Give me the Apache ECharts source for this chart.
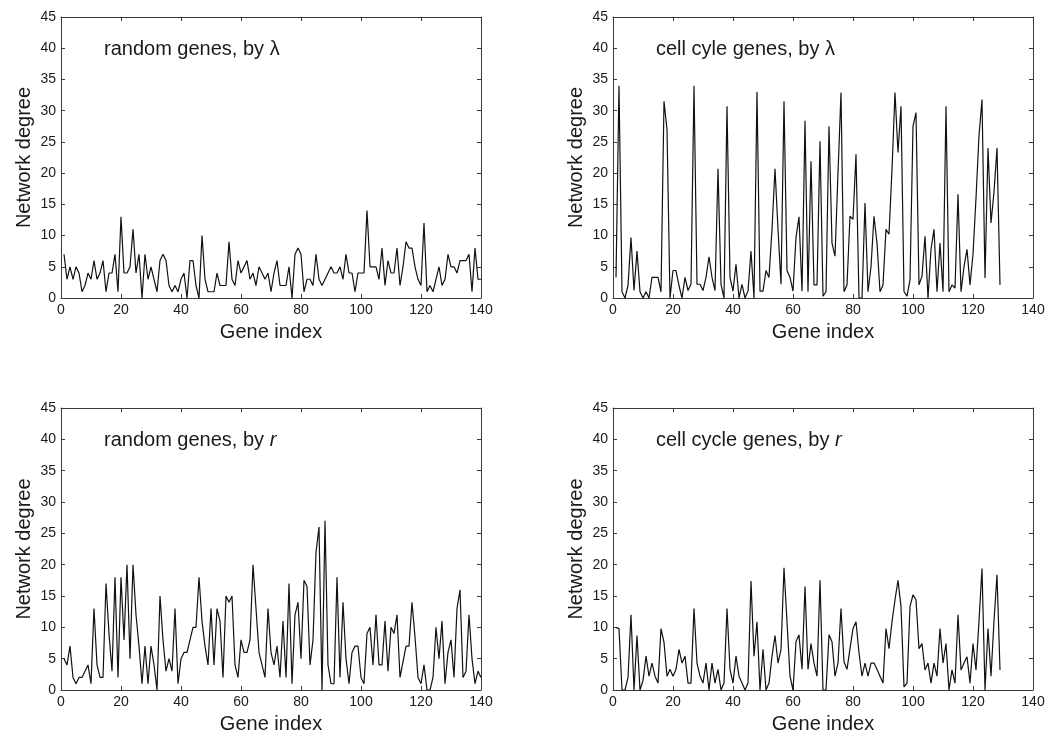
<!DOCTYPE html>
<html>
<head>
<meta charset="utf-8">
<script src="https://cdn.jsdelivr.net/npm/echarts@6/dist/echarts.min.js"></script>
<style>
html,body{margin:0;padding:0;background:#fff;}
#chart{width:1049px;height:735px;}
</style>
</head>
<body>
<div id="chart"></div>
<script>
// Network degree per gene index
const randomLambda = [
  7,3,5,3,5,4,1,2,4,3,
  6,3,4,6,1,4,4,7,1,13,
  4,4,5,11,4,7,0,7,3,5,
  3,1,6,7,6,2,1,2,1,3,
  4,0,6,6,2,0,10,3,1,1,
  1,4,2,2,2,9,3,2,6,4,
  5,6,3,4,2,5,4,3,4,1,
  4,6,2,2,2,5,0,7,8,7,
  1,3,3,2,7,3,2,3,4,5,
  4,4,5,3,7,4,4,1,4,4,
  4,14,5,5,5,3,8,2,6,4,
  4,8,2,5,9,8,8,5,3,2,
  12,1,2,1,3,5,2,3,7,5,
  5,4,6,6,6,7,1,8,3,3
];
const cellLambda = [
  3.3,34,1,0,2,9.7,1.2,7.5,1,0,
  1,0,3.3,3.3,3.3,1,31.5,27,0,4.4,
  4.4,2,0,3.3,1.2,2.2,34,2.2,2.2,1.2,
  3.3,6.6,3.3,1.2,20.7,2.2,0,30.7,3.3,1.1,
  5.4,0,2.2,0,1.1,7.5,0,33,1.1,1.1,
  4.4,3.3,11,20.7,11,2.2,31.5,4.4,3.3,1.1,
  9.7,13,1.1,28.4,1,21.9,2.1,2.1,25.1,0.3,
  1,27.5,8.8,6.7,20,32.9,1,2.1,13.1,12.6,
  23,0,0,15.2,1,5,13.1,8.8,1,2.1,
  11,10.2,20.6,32.9,23.3,30.7,1,0.3,2.9,27.5,
  29.7,2.1,3.5,9.9,0,7.8,11,1,8.8,1,
  30.7,1,2.1,1.6,16.6,1,5,7.8,2.1,7,
  16,26,31.8,3.2,24,12,17,24,2.1
];
const randomR = [
  5,4,7,2,1,2,2,3,4,1,
  13,4,2,2,17,9,3,18,2,18,
  8,20,5,20,12,7,1,7,1,7,
  4,0,15,8,3,5,3,13,1,5,
  6,6,8,10,10,18,11,7,4,13,
  4,13,11,2,15,14,15,4,2,8,
  6,6,8,20,13,6,4,2,13,6,
  4,7,2,11,2,17,1,12,14,5,
  17.5,16.5,4,8,22,26,0,27,4,1,
  1,18,2,14,5,1,6,7,7,2,
  1,9,10,4,12,4,4,11,3,10,
  9,12,2,4.5,7,7,14,8.5,2,1,
  4,0,0,2,10,5,11,1,6,8,
  2,13,16,2,3,12,5,1,3,2
];
const cellR = [
  10,9.8,0,0,2,12,0,8.7,0,1.5,
  5.4,2.2,4.3,2.2,1.1,9.8,7.6,2.2,3.3,2.2,
  3.3,6.5,4.3,5.4,1.1,1.1,13,4.3,2.2,1.1,
  4.3,0,4.3,1.1,3.3,0,1.1,13,3.3,1.1,
  5.4,2.2,1.1,0,1.1,17.4,5.4,10.9,0,6.5,
  0,1.1,5.4,8.7,4.3,6.5,19.5,10.9,2.2,0,
  7.7,8.8,3.3,16.5,3.3,7.4,4.3,2.2,17.5,0,
  0,8.8,7.7,2.2,4.3,13,4.5,3.3,6.6,9.8,
  10.9,5.9,2.2,4.3,2.2,4.3,4.3,3.3,2.2,1.1,
  9.8,6.6,10.9,14.4,17.5,13.3,0.5,1.1,13.3,15.2,
  14.4,6.6,7.4,3.2,4.3,1.1,4.3,2.2,9.8,4.3,
  7.4,0,3.2,1.1,12,3.2,4.3,5.3,1.1,7.4,
  3.2,11,19.4,0,9.8,2.2,11,18.4,3.2
];
const panelLabels = [
  'random genes, by λ',
  'cell cyle genes, by λ',
  'random genes, by {i|r}',
  'cell cycle genes, by {i|r}'
];
const xName = 'Gene index';
const yName = 'Network degree';

const panels = [randomLambda, cellLambda, randomR, cellR];
const FONT = '"Liberation Sans", Arial, sans-serif';
const INK = '#1a1a1a';
const FRAME = '#3a3a3a';

const grids = [
  {left:61, top:17, width:420, height:281},
  {left:613, top:17, width:420, height:281},
  {left:61, top:408, width:420, height:282},
  {left:613, top:408, width:420, height:282}
];
const annPos = [
  {left:104, top:39},
  {left:656, top:39},
  {left:104, top:430},
  {left:656, top:430}
];

const xAxes = [], yAxes = [], series = [], titles = [];
grids.forEach((g, k) => {
  const common = {
    gridIndex: k, type: 'value',
    axisLine: {show: true, onZero: false, lineStyle: {color: FRAME, width: 1}},
    axisTick: {show: true, inside: true, length: 4, lineStyle: {color: FRAME}},
    splitLine: {show: false}
  };
  xAxes.push(Object.assign({}, common, {
    position: 'bottom', min: 0, max: 140, interval: 20,
    axisLabel: {color: INK, fontFamily: FONT, fontSize: 14, margin: 5},
    name: xName, nameLocation: 'middle', nameGap: 24,
    nameTextStyle: {color: INK, fontFamily: FONT, fontSize: 20}
  }));
  xAxes.push(Object.assign({}, common, {
    position: 'top', min: 0, max: 140, interval: 20,
    axisLabel: {show: false}
  }));
  yAxes.push(Object.assign({}, common, {
    position: 'left', min: 0, max: 45, interval: 5,
    axisLabel: {color: INK, fontFamily: FONT, fontSize: 14, margin: 5},
    name: yName, nameLocation: 'middle', nameGap: 27,
    nameTextStyle: {color: INK, fontFamily: FONT, fontSize: 20}
  }));
  yAxes.push(Object.assign({}, common, {
    position: 'right', min: 0, max: 45, interval: 5,
    axisLabel: {show: false}
  }));
  series.push({
    type: 'line',
    xAxisIndex: 2 * k, yAxisIndex: 2 * k,
    data: panels[k].map((v, i) => [i + 1, v]),
    showSymbol: false, symbol: 'none',
    lineStyle: {color: '#111', width: 1.2},
    animation: false
  });
  titles.push({
    text: panelLabels[k],
    left: annPos[k].left, top: annPos[k].top, padding: 0,
    textStyle: {
      color: INK, fontFamily: FONT, fontSize: 20, fontWeight: 'normal',
      rich: {i: {fontStyle: 'italic', fontFamily: FONT, fontSize: 20, color: INK}}
    }
  });
});

const chart = echarts.init(document.getElementById('chart'), null, {renderer: 'canvas'});
chart.setOption({
  backgroundColor: '#ffffff',
  animation: false,
  title: titles,
  grid: grids,
  xAxis: xAxes,
  yAxis: yAxes,
  series: series
});
</script>
</body>
</html>
